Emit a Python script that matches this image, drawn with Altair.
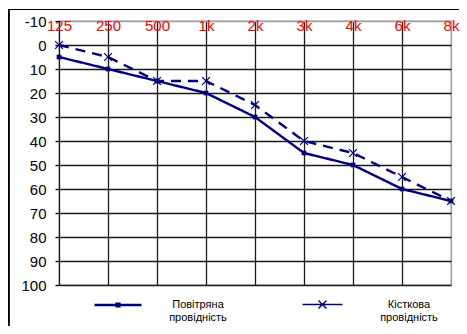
import altair as alt
import pandas as pd

freqs = ["125", "250", "500", "1k", "2k", "3k", "4k", "6k", "8k"]
air = [5, 10, 15, 20, 30, 45, 50, 60, 65]
bone = [0, 5, 15, 15, 25, 40, 45, 55, 65]
series_names = ["Повітряна провідність", "Кісткова провідність"]
y_ticks = [-10, 0, 10, 20, 30, 40, 50, 60, 70, 80, 90, 100]

NAVY = "#000080"

rows = []
for f, v in zip(freqs, air):
    rows.append({"freq": f, "db": v, "series": series_names[0]})
for f, v in zip(freqs, bone):
    rows.append({"freq": f, "db": v, "series": series_names[1]})
df = pd.DataFrame(rows)

x_enc = alt.X(
    "freq:N",
    sort=freqs,
    scale=alt.Scale(type="point", padding=0),
    axis=alt.Axis(
        orient="top", title=None, ticks=False, tickSize=0, domain=False,
        labelColor="#ff0000", labelFont="Liberation Sans", labelFontSize=15,
        labelBaseline="middle", labelPadding=-4, labelAngle=0,
        grid=True, gridWidth=1.3,
        gridColor={"condition": {"test": "datum.value === '8k'", "value": "#a0a0a0"}, "value": "#1a1a1a"},
    ),
)
y_enc = alt.Y(
    "db:Q",
    scale=alt.Scale(domain=[-10, 100], reverse=True, nice=False, zero=False),
    axis=alt.Axis(
        title=None, values=y_ticks, domain=False, tickSize=4, tickColor="#000000",
        tickWidth=1.3, labelPadding=9, labelFont="Liberation Sans", labelFontSize=15,
        labelColor="#000000", grid=True, gridWidth=1.3, labelExpr="'' + datum.value",
        gridColor={"condition": {"test": "datum.value === -10", "value": "#a0a0a0"}, "value": "#1a1a1a"},
    ),
)

lines = alt.Chart(df).mark_line(color=NAVY, strokeWidth=2.4).encode(
    x=x_enc,
    y=y_enc,
    detail="series:N",
    strokeDash=alt.StrokeDash(
        "series:N",
        scale=alt.Scale(domain=series_names, range=[[1, 0], [10, 7]]),
        legend=None,
    ),
)

squares = alt.Chart(df).transform_filter(
    alt.datum.series == series_names[0]
).mark_square(color=NAVY, size=22, opacity=1).encode(x=x_enc, y=y_enc)

crosses = alt.Chart(df).transform_filter(
    alt.datum.series == series_names[1]
).mark_point(shape="M-1,-1L1,1M-1,1L1,-1", color=NAVY, size=60, strokeWidth=1.3, opacity=1).encode(
    x=x_enc, y=y_enc
)

air_sym = "M-1,0H1M-0.06,-0.06H0.06V0.06H-0.06Z"
bone_sym = "M-0.85,0H0.85M-0.17,-0.17L0.17,0.17M-0.17,0.17L0.17,-0.17"


def legend_for(name, path, lx, loff, swidth):
    return alt.Chart(df).transform_filter(alt.datum.series == name).mark_point(opacity=0.0001).encode(
        x=x_enc,
        y=y_enc,
        shape=alt.Shape(
            "series:N",
            scale=alt.Scale(domain=[name], range=[path]),
            legend=alt.Legend(
                title=None, orient="none", legendX=lx, legendY=259,
                symbolSize=2209, symbolOpacity=1, symbolStrokeWidth=swidth,
                symbolStrokeColor=NAVY, symbolFillColor=NAVY,
                labelExpr="split(datum.label, ' ')", labelAlign="center",
                labelOffset=loff, labelFont="Liberation Sans",
                labelFontSize=11, labelColor="#000000",
            ),
        ),
    )


leg_air = legend_for(series_names[0], air_sym, 34, 55, 2.4)
leg_bone = legend_for(series_names[1], bone_sym, 239, 62, 1.4)

frame_left = alt.Chart(df).mark_rule(color="#000000", strokeWidth=1.2).encode(
    x=alt.value(-50.5), y=alt.value(-12), y2=alt.value(320)
)
frame_top = alt.Chart(df).mark_rule(color="#000000", strokeWidth=1.2).encode(
    x=alt.value(-50.5), x2=alt.value(410), y=alt.value(-11.5)
)

chart = alt.layer(lines, squares, crosses, leg_air, leg_bone, frame_left, frame_top).resolve_scale(
    shape="independent"
).properties(
    width=392, height=264,
    autosize=alt.AutoSizeParams(type="none"),
    padding={"left": 51, "top": 13, "right": 8, "bottom": 41},
).configure_view(stroke="#a0a0a0", strokeWidth=1.3)

chart.save("out.html", embed_options={"renderer": "svg", "actions": False})
